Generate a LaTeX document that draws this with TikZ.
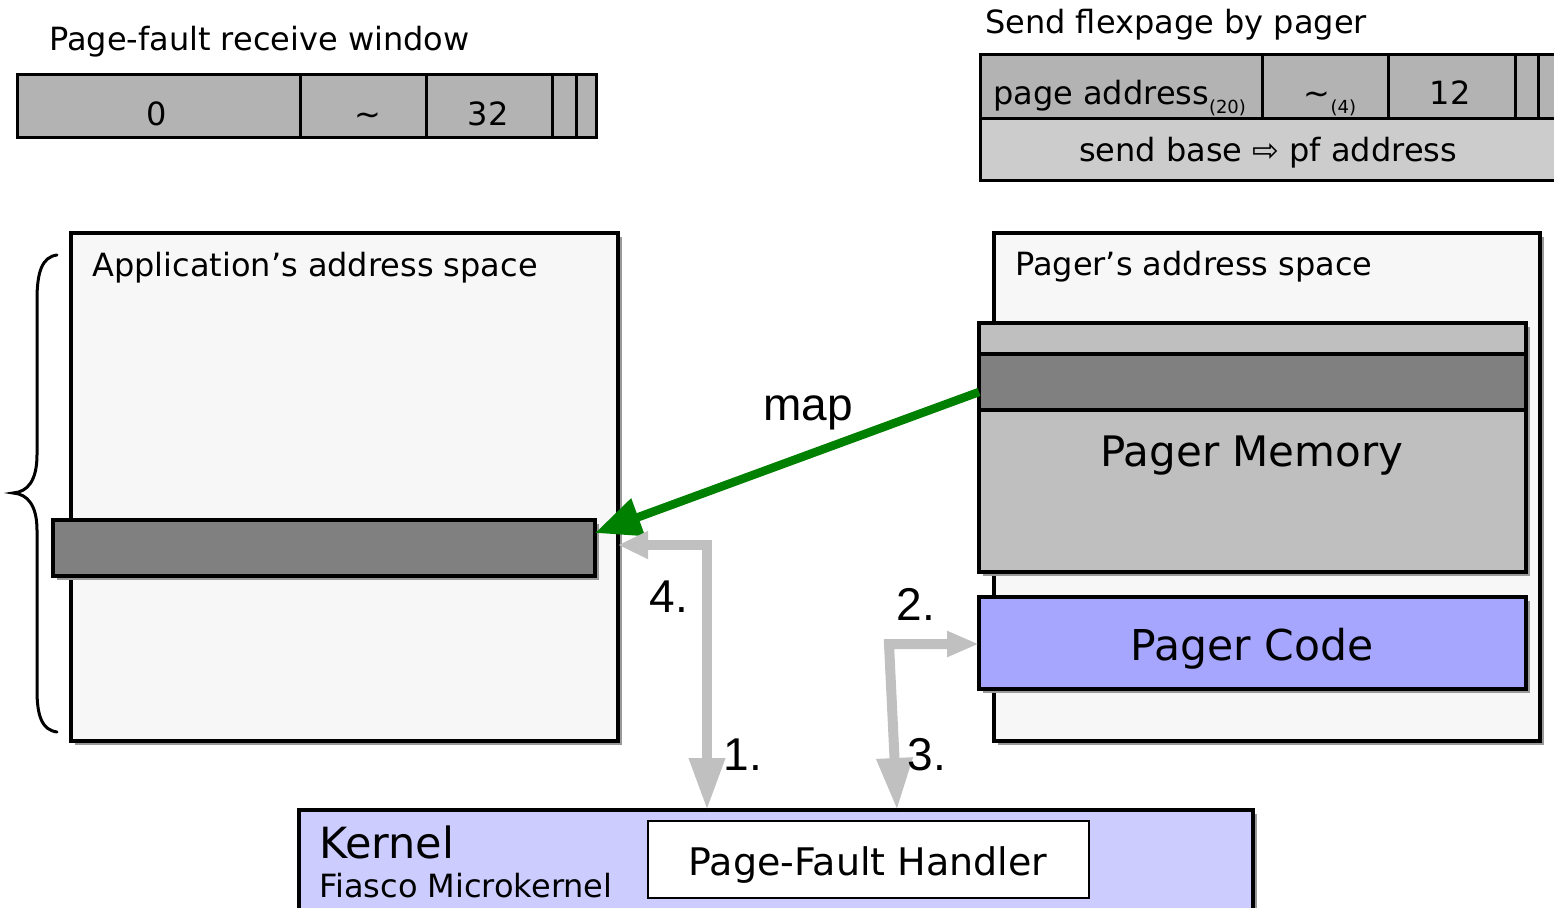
\documentclass[tikz,border=0pt]{standalone}
\usepackage{fontspec}
\setmainfont{DejaVu Sans}
\newfontfamily\arialfont{Liberation Sans}
\usetikzlibrary{arrows.meta,shadows,calc}

\definecolor{cellGray}{HTML}{B3B3B3}
\definecolor{rowGray}{HTML}{CCCCCC}
\definecolor{spaceFill}{HTML}{F7F7F7}
\definecolor{pageDark}{HTML}{808080}
\definecolor{memGray}{HTML}{BFBFBF}
\definecolor{codeBlue}{HTML}{A6A6FF}
\definecolor{kernBlue}{HTML}{CCCCFF}
\definecolor{flowGray}{HTML}{C0C0C0}
\definecolor{mapGreen}{HTML}{008000}

\newcommand{\fsz}[1]{\fontsize{#1}{#1}\selectfont}

\begin{document}
\begin{tikzpicture}[x=1pt,y=-1pt,
  cell/.style={draw=black, line width=3pt, fill=cellGray, inner sep=0, outer sep=0,
               anchor=north west, minimum height=63pt},
  frame/.style={draw=black, line width=4.5pt, inner sep=0, outer sep=0, anchor=north west},
  sh/.style={drop shadow={shadow xshift=4pt, shadow yshift=-4pt, fill=black!40, opacity=1}},
  lbl/.style={inner sep=0, anchor=base, font=\fsz{32}},
  title/.style={inner sep=0, anchor=base west, font=\fsz{32}},
  stepno/.style={inner sep=0, anchor=base, font=\arialfont\fsz{46}},
  flow/.style={draw=flowGray, line width=10pt},
  mapline/.style={draw=mapGreen, line width=8.5pt, -{Triangle[length=46pt,width=38pt]}}
]
\clip (0,0) rectangle (1554,907);

% ---- page-fault receive window ----
\node[title] (pfwTitle) at (49,51) {Page-fault receive window};
\node[cell, minimum width=283pt] (w0) at (17,74) {};
\node[cell, minimum width=126pt] (w1) at (300,74) {};
\node[cell, minimum width=126pt] (w2) at (426,74) {};
\node[cell, minimum width=24pt]  (w3) at (552,74) {};
\node[cell, minimum width=20pt]  (w4) at (576,74) {};
\node[lbl] (w0t) at (157,125) {0};
\node[lbl] (w1t) at (368,125) {∼};
\node[lbl] (w2t) at (488,125) {32};

% ---- flexpage sent by the pager ----
\node[title] (fpTitle) at (985,34) {Send flexpage by pager};
\node[cell, minimum width=282pt] (f0) at (980,55) {};
\node[cell, minimum width=126pt] (f1) at (1262,55) {};
\node[cell, minimum width=127pt] (f2) at (1388,55) {};
\node[cell, minimum width=23pt]  (f3) at (1515,55) {};
\node[cell, minimum width=40pt]  (f4) at (1538,55) {};
\node[cell, fill=rowGray, minimum width=598pt, minimum height=62pt] (fb) at (980,118) {};
\node[title] (f0t) at (993,104) {page address\raisebox{-9pt}{\fsz{18}(20)}};
\node[lbl] (f1t) at (1330,104) {∼\raisebox{-9pt}{\fsz{18}(4)}};
\node[lbl] (f2t) at (1450,104) {12};
\node[lbl] (fbt) at (1268,161) {send base ⇨ pf address};

% ---- application's address space ----
\node[frame, sh, fill=spaceFill, minimum width=547pt, minimum height=508pt] (app) at (71,233) {};
\node[title] (appTitle) at (92,276) {Application’s address space};
\node[frame, sh, line width=3.5pt, fill=pageDark, minimum width=542pt, minimum height=56pt] (appbar) at (53,520) {};
\draw[line width=3pt, line cap=round]
  (57,255) .. controls (42,257) and (37,272) .. (37,300) -- (37,455)
  .. controls (37,480) and (28,492) .. (13,493)
  .. controls (28,494) and (37,506) .. (37,530) -- (37,690)
  .. controls (37,716) and (42,730) .. (57,732);

% ---- pager's address space ----
\node[frame, sh, fill=spaceFill, minimum width=546pt, minimum height=508pt] (pager) at (994,233) {};
\node[title] (pagerTitle) at (1015,275) {Pager’s address space};
\node[frame, sh, fill=memGray, minimum width=547pt, minimum height=249pt] (mem) at (979,323) {};
\node[frame, line width=3.5pt, fill=pageDark, minimum width=547pt, minimum height=56pt] (band) at (979,354) {};
\node[lbl, font=\fsz{42}] (memt) at (1252,466) {Pager Memory};
\node[frame, sh, fill=codeBlue, minimum width=547pt, minimum height=92pt] (pcode) at (979,597) {};
\node[lbl, font=\fsz{42.5}] (pcodet) at (1252,660) {Pager Code};

% ---- kernel ----
\node[frame, sh, fill=kernBlue, minimum width=954pt, minimum height=110pt] (kernel) at (299,810) {};
\node[title, font=\fsz{43}] (kt1) at (319,858) {Kernel};
\node[title] (kt2) at (319,897) {Fiasco Microkernel};
\node[frame, line width=2.5pt, fill=white, minimum width=441pt, minimum height=77pt] (pfh) at (648,821) {};
\node[lbl, font=\fsz{38}] (pfht) at (868,875) {Page-Fault Handler};

% ---- mapping ----
\draw[mapline] ([yshift=-10pt]band.west) -- ([yshift=15pt]appbar.east);
\node[stepno] (mapt) at (808,420) {map};

% ---- page-fault protocol steps ----
\coordinate (bend4) at (707,545);
\draw[flow, {Triangle[length=30pt,width=26pt]}-{Triangle[length=52pt,width=34pt]}]
  (bend4 -| app.east) -- (bend4) -- (bend4 |- kernel.north);
\coordinate (bend2) at (889,644);
\coordinate (k3) at ($(kernel.north west)+(598,0)$);
\draw[flow, {Triangle[length=32pt,width=24pt]}-{Triangle[length=52pt,width=34pt]}]
  (bend2 -| pcode.west) -- (bend2) -- (k3);
\node[stepno] (s4) at (669,612) {4.};
\node[stepno] (s1) at (743,770) {1.};
\node[stepno] (s2) at (916,620) {2.};
\node[stepno] (s3) at (927,770) {3.};
\end{tikzpicture}
\end{document}
